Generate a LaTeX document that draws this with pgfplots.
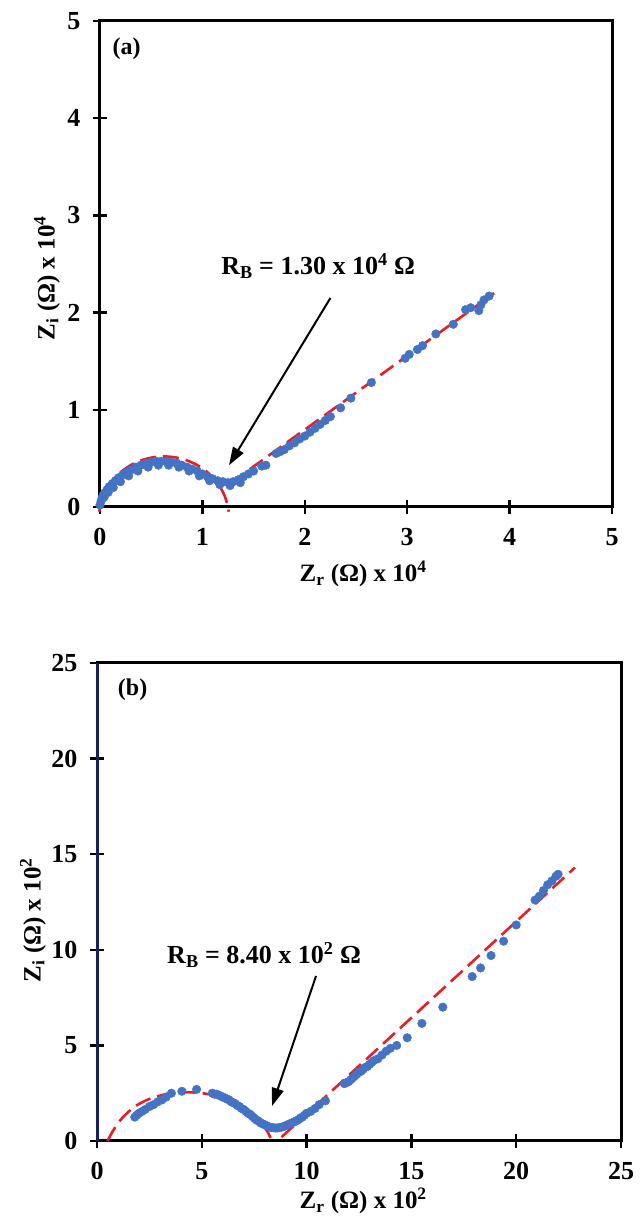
\documentclass[border=0pt]{standalone}
\usepackage{fontspec}
\setmainfont{Liberation Serif}
\usepackage{pgfplots}
\pgfplotsset{compat=1.18}
\usetikzlibrary{arrows.meta}

\definecolor{ptblue}{RGB}{68,114,196}
\definecolor{fitred}{RGB}{236,28,36}
\definecolor{navyaxis}{RGB}{22,32,100}

\pgfplotsset{
  eisaxis/.style={
    scale only axis,
    clip=false,
    axis line style={line width=3pt, black},
    major tick length=14pt,
    tick align=center,
    tick style={line width=2.5pt, black},
    xtick pos=bottom,
    ytick pos=left,
    ticklabel style={font=\fontsize{26}{26}\selectfont\bfseries},
    xticklabel style={yshift=-11pt},
    yticklabel style={xshift=-9pt},
    /pgf/number format/assume math mode=true,
    label style={font=\fontsize{25}{25}\selectfont\bfseries},
  },
  pts/.style={only marks, mark=*, mark size=4.3pt,
    mark options={draw=ptblue, fill=ptblue}},
  fit/.style={no marks, smooth, fitred, line width=2.6pt,
    dash pattern=on 16pt off 7pt},
}
\tikzset{
  rblabel/.style={font=\fontsize{26}{26}\selectfont\bfseries},
  panellabel/.style={font=\fontsize{24}{24}\selectfont\bfseries},
  rbarrow/.style={line width=2pt, -{Triangle[length=18pt,width=12pt]}},
}

\begin{document}
\begin{tikzpicture}
\useasboundingbox (0,0) rectangle (640pt,1220pt);

% ---------------- panel (a) ----------------
\begin{axis}[eisaxis,
  at={(100pt,713pt)}, anchor=south west,
  width=512pt, height=486pt,
  xmin=0, xmax=5, ymin=0, ymax=5,
  xtick={0,1,2,3,4,5}, ytick={0,1,2,3,4,5},
  xlabel={Z\textsubscript{r} (Ω) x 10\textsuperscript{4}},
  ylabel={Z\textsubscript{i} (Ω) x 10\textsuperscript{4}},
  xlabel style={at={(axis description cs:0.514,0)}, anchor=center, yshift=-67pt},
  ylabel style={at={(axis description cs:-0.1035,0.471)}, anchor=center},
]
\addplot[pts] coordinates {
  (0.00,0.02) (0.01,0.06) (0.02,0.09) (0.03,0.12) (0.05,0.15) (0.07,0.18)
  (0.09,0.21) (0.12,0.24) (0.15,0.27) (0.18,0.30) (0.22,0.33) (0.26,0.36)
  (0.30,0.38) (0.35,0.41) (0.40,0.43) (0.45,0.45) (0.50,0.46) (0.55,0.47)
  (0.60,0.47) (0.65,0.47) (0.70,0.46) (0.75,0.45) (0.80,0.43) (0.85,0.41)
  (0.90,0.39) (0.95,0.37) (1.00,0.34) (1.05,0.31) (1.10,0.29) (1.15,0.27)
  (1.20,0.26) (1.25,0.25) (1.30,0.26) (1.35,0.28) (1.40,0.31) (1.45,0.34)
  (1.50,0.37) (1.58,0.42) (1.62,0.43)
  (0.04,0.10) (0.08,0.15) (0.13,0.20) (0.20,0.26) (0.28,0.32) (0.37,0.37)
  (0.47,0.41) (0.57,0.43) (0.67,0.43) (0.77,0.41) (0.87,0.37) (0.97,0.32)
  (1.07,0.27) (1.17,0.23) (1.27,0.22) (1.37,0.25)
  (1.72,0.55) (1.76,0.57) (1.80,0.59) (1.85,0.63) (1.90,0.66) (1.95,0.70)
  (2.00,0.73) (2.05,0.77) (2.10,0.81) (2.15,0.85) (2.20,0.89) (2.25,0.93)
  (2.35,1.02) (2.45,1.12) (2.65,1.28) (2.98,1.53) (3.02,1.57) (3.10,1.62)
  (3.15,1.66) (3.28,1.78) (3.45,1.88) (3.57,2.03) (3.62,2.05) (3.70,2.02)
  (3.72,2.08) (3.75,2.13) (3.80,2.17)
};
% fitted depressed semicircle and diffusion line
\addplot[fit] coordinates {
  (-0.0065,-0.049) (-0.0003,-0.005) (0.0283,0.1022) (0.075,0.2025)
  (0.1386,0.2932) (0.2168,0.3714) (0.3075,0.435) (0.4078,0.4817)
  (0.5148,0.5104) (0.625,0.52) (0.7352,0.5104) (0.8422,0.4817)
  (0.9425,0.435) (1.0332,0.3714) (1.1114,0.2932) (1.175,0.2025)
  (1.2217,0.1022) (1.2503,-0.005) (1.2565,-0.049)
};
\addplot[fit, smooth=false] coordinates {(1.28,0.25) (3.85,2.20)};

\node[panellabel] at (axis cs:0.26,4.71) {(a)};
\node[rblabel] at (axis cs:2.13,2.48)
  {R\textsubscript{B} = 1.30 x 10\textsuperscript{4} Ω};
\draw[rbarrow] (axis cs:2.25,2.15) -- (axis cs:1.26,0.43);
\end{axis}

% ---------------- panel (b) ----------------
\begin{axis}[eisaxis,
  at={(97pt,79pt)}, anchor=south west,
  width=524pt, height=478pt,
  xmin=0, xmax=25, ymin=0, ymax=25,
  xtick={0,5,10,15,20,25}, ytick={0,5,10,15,20,25},
  xlabel={Z\textsubscript{r} (Ω) x 10\textsuperscript{2}},
  ylabel={Z\textsubscript{i} (Ω) x 10\textsuperscript{2}},
  xlabel style={at={(axis description cs:0.508,0)}, anchor=center, yshift=-60pt},
  ylabel style={at={(axis description cs:-0.122,0.462)}, anchor=center},
]
\addplot[pts] coordinates {
  (1.8,1.25) (1.9,1.35) (2.0,1.45) (2.15,1.55) (2.3,1.65) (2.5,1.8)
  (2.7,1.9) (2.9,2.05) (3.1,2.15) (3.3,2.3) (3.55,2.5) (4.05,2.6)
  (4.75,2.7) (5.5,2.5) (5.6,2.45) (5.7,2.45) (5.8,2.4) (5.9,2.35)
  (6.0,2.3) (6.1,2.25) (6.2,2.2) (6.3,2.15) (6.4,2.05) (6.5,2.0)
  (6.6,1.95) (6.7,1.85) (6.8,1.8) (6.9,1.7) (7.0,1.65) (7.1,1.55)
  (7.2,1.45) (7.3,1.4) (7.4,1.3) (7.5,1.2) (7.6,1.1) (7.7,1.05)
  (7.8,0.95) (7.9,0.9) (8.0,0.85) (8.1,0.8) (8.2,0.75) (8.3,0.7)
  (8.4,0.7) (8.5,0.68) (8.6,0.68) (8.7,0.7) (8.8,0.72) (8.9,0.75)
  (9.0,0.8) (9.1,0.85) (9.2,0.9) (9.3,0.95) (9.4,1.0) (9.5,1.05)
  (9.6,1.1) (9.7,1.2) (9.8,1.25) (9.9,1.35) (10.0,1.45) (10.2,1.55)
  (10.4,1.7) (10.6,1.9) (10.9,2.1)
  (11.8,3.0) (11.9,3.05) (12.0,3.1) (12.1,3.2) (12.2,3.3) (12.3,3.4)
  (12.4,3.5) (12.5,3.6) (12.6,3.65) (12.7,3.75) (12.8,3.85) (12.9,3.9)
  (13.0,4.0) (13.1,4.1) (13.2,4.2) (13.4,4.3) (13.6,4.5) (13.8,4.7)
  (14.0,4.85) (14.3,5.0) (14.8,5.4) (15.5,6.15) (16.5,7.0) (17.9,8.6)
  (18.3,9.05) (18.8,9.7) (19.4,10.45) (20.0,11.3) (20.9,12.6) (21.1,12.8)
  (21.3,13.1) (21.5,13.4) (21.7,13.6) (21.9,13.85) (22.0,13.95)
};
\addplot[fit] coordinates {
  (0.5,0.0) (0.8,0.6) (1.2,1.2) (1.8,1.8) (2.5,2.2) (3.3,2.45)
  (4.2,2.55) (5.0,2.5) (5.8,2.35) (6.5,2.05) (7.2,1.6) (7.7,1.1)
  (8.1,0.55) (8.35,0.0)
};
\addplot[fit, smooth=false] coordinates {(8.8,0.2) (22.8,14.3)};

% left axis line drawn in dark blue
\draw[navyaxis, line width=3pt] (rel axis cs:0,0) -- (rel axis cs:0,1);

\node[panellabel] at (axis cs:1.70,23.59) {(b)};
\node[rblabel] at (axis cs:7.97,9.73)
  {R\textsubscript{B} = 8.40 x 10\textsuperscript{2} Ω};
\draw[rbarrow] (axis cs:10.45,8.63) -- (axis cs:8.35,1.83);
\end{axis}
\end{tikzpicture}
\end{document}
